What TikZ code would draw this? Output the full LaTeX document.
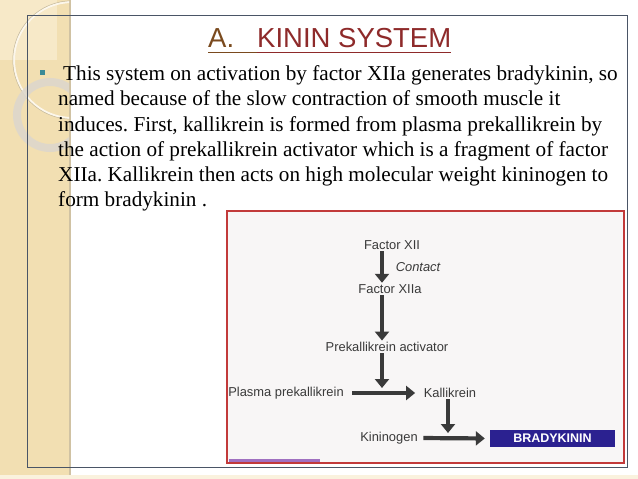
\documentclass[tikz,border=0pt]{standalone}
\usepackage{fontspec}
\setmainfont{Liberation Serif}
\newfontfamily\arialf{Liberation Sans}
\usetikzlibrary{arrows.meta}
\frenchspacing
\definecolor{bandbeige}{HTML}{F2DFB2}
\definecolor{bandlight}{HTML}{F7E9C8}
\definecolor{framegray}{HTML}{4A5566}
\definecolor{titlered}{HTML}{8E2A2A}
\definecolor{titlebrown}{HTML}{7A4A1E}
\definecolor{boxred}{HTML}{C23A3A}
\definecolor{boxfill}{HTML}{F8F6F6}
\definecolor{diagtext}{HTML}{3A3A3A}
\definecolor{bradyblue}{HTML}{2B2190}
\definecolor{bulletteal}{HTML}{3B8A96}
\definecolor{ringgray}{HTML}{DDD7CC}
\definecolor{purplebar}{HTML}{A070C0}
\tikzset{
  bodyline/.style={anchor=base west, inner sep=0pt, font=\fontsize{21.2}{25}\selectfont},
  dlabel/.style={font=\arialf\fontsize{12.9}{15}\selectfont, text=diagtext, inner sep=1.5pt},
  bigarrow/.style={draw=diagtext, line width=4.2pt, -{Triangle[width=14pt,length=9pt]}},
}
\begin{document}
\begin{tikzpicture}[x=1pt,y=-1pt]
\useasboundingbox (0,0) rectangle (638,479);
\fill[white] (0,0) rectangle (638,479);
% left band
\fill[bandbeige] (0,0) rectangle (70,479);
\fill[bandlight] (0,0) rectangle (57,60);
\draw[color=bandbeige!70!gray, line width=1.5pt] (70,0) -- (70,479);
\fill[bandlight!60!white] (0,475) rectangle (638,479);
\begin{scope}
  \clip (0,0) rectangle (69,479);
  \draw[color=white!75!bandbeige, line width=2pt] (72,60) circle (58);
  \draw[color=bandbeige!60!gray, line width=0.5pt] (72,60) circle (59.2);
  \draw[color=ringgray, line width=8pt, opacity=0.9] (50,115) circle (33);
\end{scope}
% slide frame
\draw[framegray, line width=0.8pt] (27,15) rectangle (627,467);
% title
\node[anchor=base west, inner sep=0pt, font=\arialf\fontsize{27.5}{30}\selectfont, text=titlebrown] (tA) at (208,47) {A.};
\node[anchor=base west, inner sep=0pt, font=\arialf\fontsize{27.5}{30}\selectfont, text=titlered] (tK) at (257,47) {KININ SYSTEM};
\draw[titlebrown, line width=1.3pt] ([yshift=-5.5pt]tA.base west) -- ([yshift=-5.5pt]tK.base west);
\draw[titlered, line width=1.3pt] ([yshift=-5.5pt]tK.base west) -- ([yshift=-5.5pt]tK.base east);
% bullet and body
\fill[bulletteal] (39.5,69.5) rectangle (44.5,74.5);
\node[bodyline] (l1) at (63,80.5) {This system on activation by factor XIIa generates bradykinin, so};
\node[bodyline] (l2) at (58,105.8) {named because of the slow contraction of smooth muscle it};
\node[bodyline] (l3) at (58,131) {induces. First, kallikrein is formed from plasma prekallikrein by};
\node[bodyline] (l4) at (58,156.3) {the action of prekallikrein activator which is a fragment of factor};
\node[bodyline] (l5) at (58,181.5) {XIIa. Kallikrein then acts on high molecular weight kininogen to};
\node[bodyline] (l6) at (58,206.8) {form bradykinin .};
% diagram box
\draw[boxred, line width=1.5pt, fill=boxfill] (227,211) rectangle (624,463);
\fill[purplebar] (229,459) rectangle (320,461.5);
% diagram nodes
\node[dlabel] (fxii) at (392,245) {Factor XII};
\node[dlabel, font=\arialf\itshape\fontsize{12.9}{15}\selectfont] (contact) at (418,267) {Contact};
\node[dlabel] (fxiia) at (390,289) {Factor XIIa};
\node[dlabel] (pka) at (387,347) {Prekallikrein activator};
\node[dlabel] (ppk) at (286,393) {Plasma prekallikrein};
\node[dlabel] (kal) at (450,393) {Kallikrein};
\node[dlabel] (kin) at (389,438) {Kininogen};
\node[fill=bradyblue, text=white, font=\arialf\bfseries\fontsize{12.5}{14}\selectfont, minimum width=125pt, minimum height=17pt, inner sep=0pt] (brady) at (552.5,438.5) {BRADYKININ};
\coordinate (c1) at (382,0);
\coordinate (j1) at (382,388);
\coordinate (j2) at (448,433);
% arrows
\draw[bigarrow] (fxii.south -| c1) -- (fxiia.north -| c1);
\draw[bigarrow] (fxiia.south -| c1) -- (pka.north -| c1);
\draw[bigarrow] (pka.south -| c1) -- (j1);
\draw[bigarrow, shorten <=7pt, shorten >=7pt] (ppk.east) -- (kal.west);
\draw[bigarrow] (kal.south -| j2) -- (j2);
\draw[bigarrow, shorten <=4pt, shorten >=5pt] (kin.east) -- (brady.west);
\end{tikzpicture}
\end{document}
